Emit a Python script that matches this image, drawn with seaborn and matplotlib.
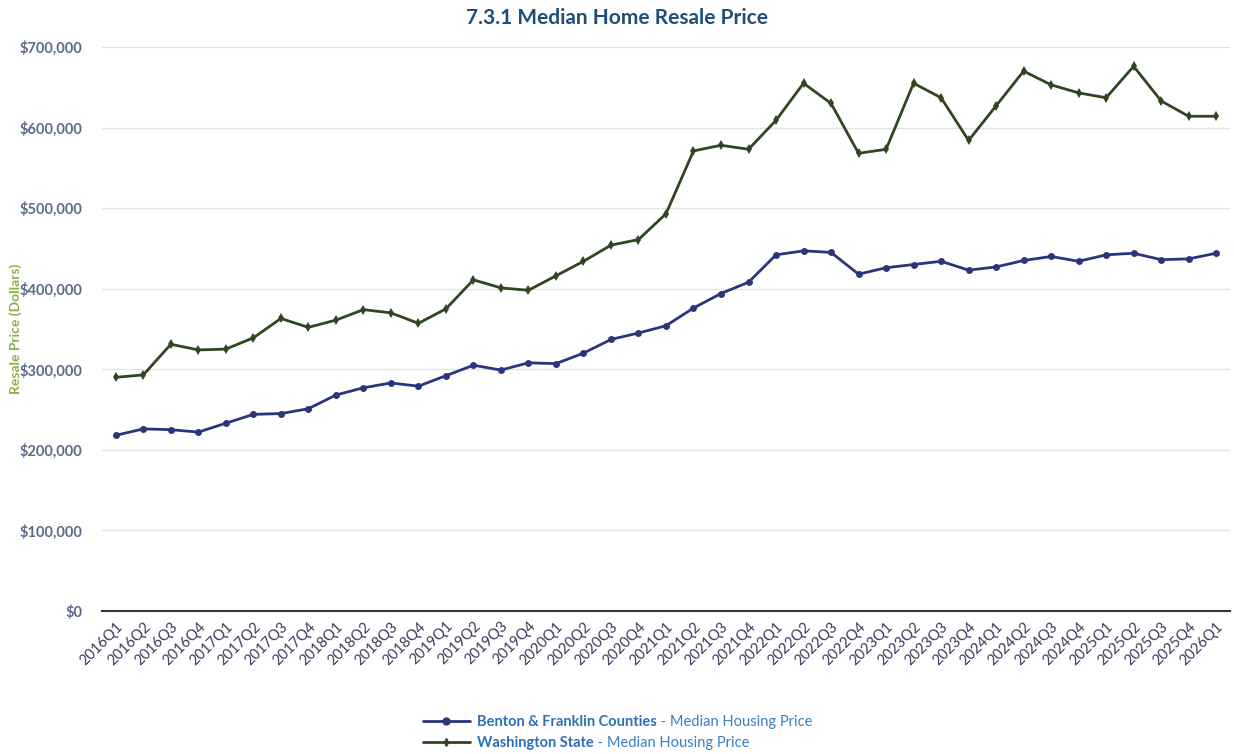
import pandas as pd
import matplotlib.pyplot as plt
import seaborn as sns
from matplotlib.ticker import FuncFormatter

# quarters 2016Q1 .. 2026Q1
quarters = [f"{y}Q{q}" for y in range(2016, 2026) for q in range(1, 5)] + ["2026Q1"]

benton = [218000, 226000, 225000, 222000, 233000, 244000, 245000, 251000,
          268000, 277000, 283000, 279000, 292000, 305000, 299000, 308000,
          307000, 320000, 337000, 345000, 354000, 376000, 394000, 408000,
          442000, 447000, 445000, 418000, 426000, 430000, 434000, 423000,
          427000, 435000, 440000, 434000, 442000, 444000, 436000, 437000,
          444000]

washington = [290000, 293000, 331000, 324000, 325000, 339000, 363000, 352000,
              361000, 374000, 370000, 357000, 375000, 411000, 401000, 398000,
              416000, 434000, 454000, 461000, 493000, 571000, 578000, 573000,
              609000, 655000, 630000, 568000, 573000, 655000, 637000, 584000,
              627000, 670000, 653000, 643000, 637000, 676000, 633000, 614000,
              614000]

series_names = ["Benton & Franklin Counties", "Washington State"]
legend_suffix = " - Median Housing Price"

df = pd.concat([
    pd.DataFrame({"quarter": quarters, "idx": range(len(quarters)), "price": benton, "series": series_names[0]}),
    pd.DataFrame({"quarter": quarters, "idx": range(len(quarters)), "price": washington, "series": series_names[1]}),
])

sns.set_style("white")
plt.rcParams["font.family"] = ["Lato", "DejaVu Sans"]

fig = plt.figure(figsize=(12.34, 7.54), dpi=100)
ax = fig.add_axes([0.0827, 0.1897, 0.914, 0.748])

colors = {series_names[0]: "#2b367a", series_names[1]: "#2f4620"}
sns.lineplot(data=df, x="idx", y="price", hue="series", style="series",
             palette=colors, markers={series_names[0]: "o", series_names[1]: "d"},
             dashes=False, linewidth=2, markersize=5, markeredgewidth=0,
             ax=ax, legend=False)

ax.set_xlim(-0.5, len(quarters) - 0.5)
ax.set_ylim(0, 700000)
ax.set_yticks(range(0, 700001, 100000))
ax.yaxis.set_major_formatter(FuncFormatter(lambda v, p: f"${v:,.0f}"))
ax.set_xticks(range(len(quarters)))
ax.set_xticklabels(quarters, rotation=45, ha="right", rotation_mode="anchor")

ax.grid(axis="y", color="#e3e3e3", linewidth=1)
ax.grid(axis="x", visible=False)
for s in ["left", "right", "top"]:
    ax.spines[s].set_visible(False)
ax.spines["bottom"].set_color("#333333")
ax.spines["bottom"].set_linewidth(1.5)
ax.tick_params(axis="y", length=0, labelsize=10.5, labelcolor="#5b6b87", pad=14)
ax.tick_params(axis="x", length=0, labelsize=10.5, labelcolor="#3a3a5c", pad=6)
for t in ax.get_yticklabels():
    t.set_fontweight("bold")

ax.set_xlabel("")
ax.set_ylabel("Resale Price (Dollars)", color="#8cb04a", fontsize=10,
              fontweight="bold")
ax.yaxis.set_label_coords(-0.071, 0.5)

fig.suptitle("7.3.1 Median Home Resale Price", x=0.5, y=0.99, fontsize=15,
             fontweight="bold", color="#1f4e79")

# legend below chart: bold series name + normal suffix
handles = [plt.Line2D([], [], color=colors[n], marker=m, markersize=5 if m == "o" else 4,
                      linewidth=2) for n, m in zip(series_names, ["o", "d"])]
leg = fig.legend(handles, series_names, loc="upper left", bbox_to_anchor=(0.338, 0.059),
                 ncol=1, frameon=False, fontsize=10.5, handlelength=3.2,
                 labelspacing=0.45, handletextpad=0.5, borderaxespad=0)
for t in leg.get_texts():
    t.set_color("#2e6fb7")
    t.set_fontweight("bold")

fig.canvas.draw()
renderer = fig.canvas.get_renderer()
inv = fig.transFigure.inverted()
for t in leg.get_texts():
    bb = t.get_window_extent(renderer)
    x0, y0 = inv.transform((bb.x1, (bb.y0 + bb.y1) / 2))
    fig.text(x0, y0, legend_suffix, fontsize=10.5, color="#3a7fc1",
             va="center", ha="left")

fig.savefig("out.png", dpi=100)
